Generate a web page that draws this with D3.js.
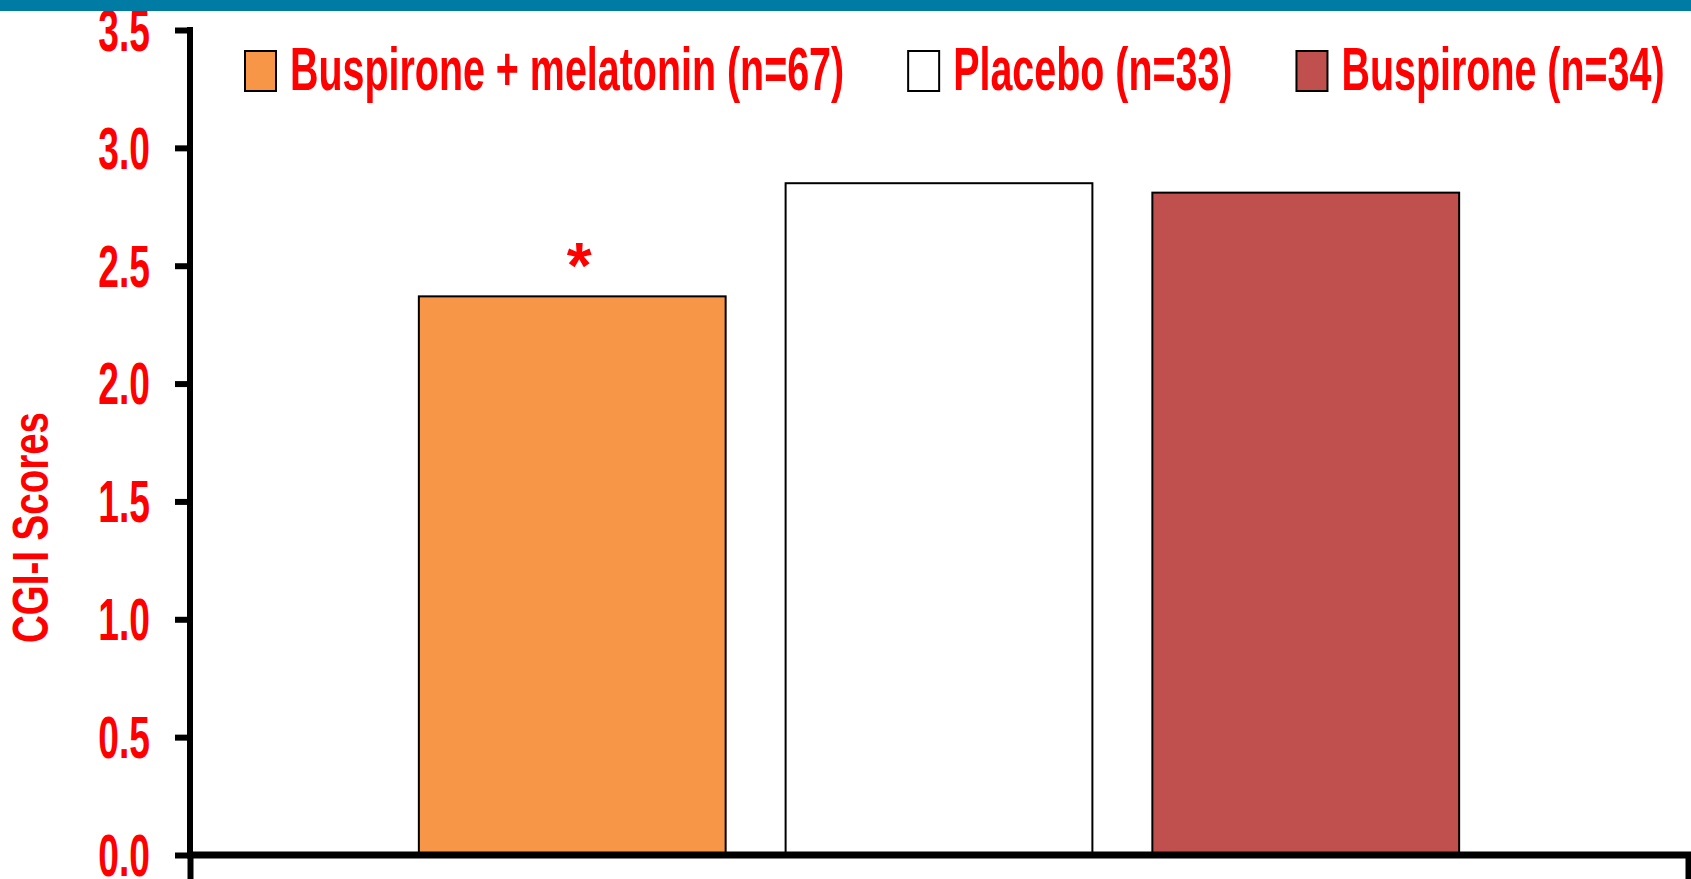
<!DOCTYPE html>
<html>
<head>
<meta charset="utf-8">
<script src="https://cdn.jsdelivr.net/npm/d3@7"></script>
<style>
    html, body { margin: 0; padding: 0; background: #ffffff; }
    svg text { font-family: "Liberation Sans", Arial, sans-serif; font-weight: bold; fill: #ff0000; }
</style>
</head>
<body>
<svg id="cgiChart"></svg>
<script>
/* Data */
const seriesNames = ["Buspirone + melatonin (n=67)", "Placebo (n=33)", "Buspirone (n=34)"];
const seriesValues = [2.37, 2.85, 2.81];
const seriesColors = ["#f79646", "#ffffff", "#c0504d"];
const significance = ["*", "", ""];
const yTickValues = [0, 0.5, 1.0, 1.5, 2.0, 2.5, 3.0, 3.5];
const yAxisTitle = "CGI-I Scores";

const buildGraph = () => {

    let svgWidth = 1691;
    let svgHeight = 879;

    /* Plot area edges */
    let padding = {
        top: 30,
        bottom: 24,
        left: 190,
        right: 3
    }

    let plotWidth = svgWidth - padding.left - padding.right;
    let plotHeight = svgHeight - padding.top - padding.bottom;

    let containerSvg = d3.select("svg#cgiChart")
        .attr("width", svgWidth)
        .attr("height", svgHeight);

    let plotSvg = containerSvg.append("g")
        .attr("transform", "translate(" + padding.left + "," + padding.top + ")");

    let xScale = d3.scaleBand()
        .domain(seriesNames)
        .range([0, plotWidth])
        .paddingInner(0.1635)
        .paddingOuter(0.624);

    let yScale = d3.scaleLinear()
        .domain([0, 3.5])
        .range([plotHeight, 0]);

    /* Bars */
    plotSvg.selectAll("rect.bar")
        .data(seriesNames)
        .enter()
        .append("rect")
        .attr("class", "bar")
        .attr("x", d => xScale(d))
        .attr("y", (d, i) => yScale(seriesValues[i]))
        .attr("width", xScale.bandwidth())
        .attr("height", (d, i) => plotHeight - yScale(seriesValues[i]))
        .style("fill", (d, i) => seriesColors[i])
        .style("stroke", "#000000")
        .style("stroke-width", "2px");

    /* Significance marker */
    plotSvg.selectAll("text.sig")
        .data(seriesNames)
        .enter()
        .append("text")
        .attr("class", "sig")
        .attr("x", d => xScale(d) + xScale.bandwidth() / 2 + 7)
        .attr("y", (d, i) => yScale(seriesValues[i]) - 8)
        .style("text-anchor", "middle")
        .style("font-size", "64px")
        .text((d, i) => significance[i]);

    /* Y axis */
    let yAxis = d3.axisLeft(yScale)
        .tickValues(yTickValues)
        .tickSizeInner(15)
        .tickSizeOuter(0)
        .tickFormat(d3.format(".1f"));

    let yAxisG = plotSvg.append("g")
        .attr("class", "y")
        .call(yAxis);

    yAxisG.select("path.domain").remove();
    yAxisG.selectAll(".tick line")
        .attr("stroke", "#000000")
        .attr("stroke-width", 6);
    yAxisG.selectAll(".tick text")
        .attr("x", 0)
        .attr("dy", "0.34em")
        .attr("transform", "translate(-40,0) scale(0.62,1)")
        .style("font-size", "60px")
        .style("fill", "#ff0000");

    /* X axis: boundary ticks only */
    let xEdgeScale = d3.scaleLinear().domain([0, 1]).range([0, plotWidth]);
    let xAxis = d3.axisBottom(xEdgeScale)
        .tickValues([0, 1])
        .tickSizeInner(24)
        .tickSizeOuter(0)
        .tickFormat("");

    let xAxisG = plotSvg.append("g")
        .attr("class", "x")
        .attr("transform", "translate(0," + plotHeight + ")")
        .call(xAxis);
    xAxisG.select("path.domain").remove();
    xAxisG.selectAll(".tick line")
        .attr("stroke", "#000000")
        .attr("stroke-width", 6);

    /* Axis lines */
    plotSvg.append("line")
        .attr("x1", 0)
        .attr("x2", 0)
        .attr("y1", yScale(3.5) - 3)
        .attr("y2", plotHeight)
        .attr("stroke", "#000000")
        .attr("stroke-width", 6);

    plotSvg.append("line")
        .attr("x1", -3)
        .attr("x2", plotWidth + 3)
        .attr("y1", plotHeight)
        .attr("y2", plotHeight)
        .attr("stroke", "#000000")
        .attr("stroke-width", 7);

    /* Y axis title */
    containerSvg.append("text")
        .attr("transform", "translate(48," + (padding.top + plotHeight / 2 + 85) + ") rotate(-90) scale(0.77,1)")
        .style("text-anchor", "middle")
        .style("font-size", "50px")
        .text(yAxisTitle);

    /* Legend */
    let legendX = 245;
    let legendScale = 0.636;
    seriesNames.forEach((name, index) => {
        let item = containerSvg.append("g")
            .attr("class", "legend-item")
            .attr("transform", "translate(" + legendX + ",0)");

        item.append("rect")
            .attr("x", 0)
            .attr("y", 51)
            .attr("width", 31)
            .attr("height", 40)
            .style("fill", seriesColors[index])
            .style("stroke", "#000000")
            .style("stroke-width", "2px");

        let label = item.append("text")
            .attr("x", 0)
            .attr("y", 0)
            .attr("transform", "translate(45,90) scale(" + legendScale + ",1)")
            .style("font-size", "62px")
            .text(name);

        let labelWidth = label.node().getComputedTextLength() * legendScale;
        legendX += 45 + labelWidth + 64;
    });

    /* Top banner, drawn last so it clips the top tick label like the original */
    containerSvg.append("rect")
        .attr("x", 0)
        .attr("y", 0)
        .attr("width", svgWidth)
        .attr("height", 11)
        .style("fill", "#007ba3");
}

buildGraph();
</script>
</body>
</html>
